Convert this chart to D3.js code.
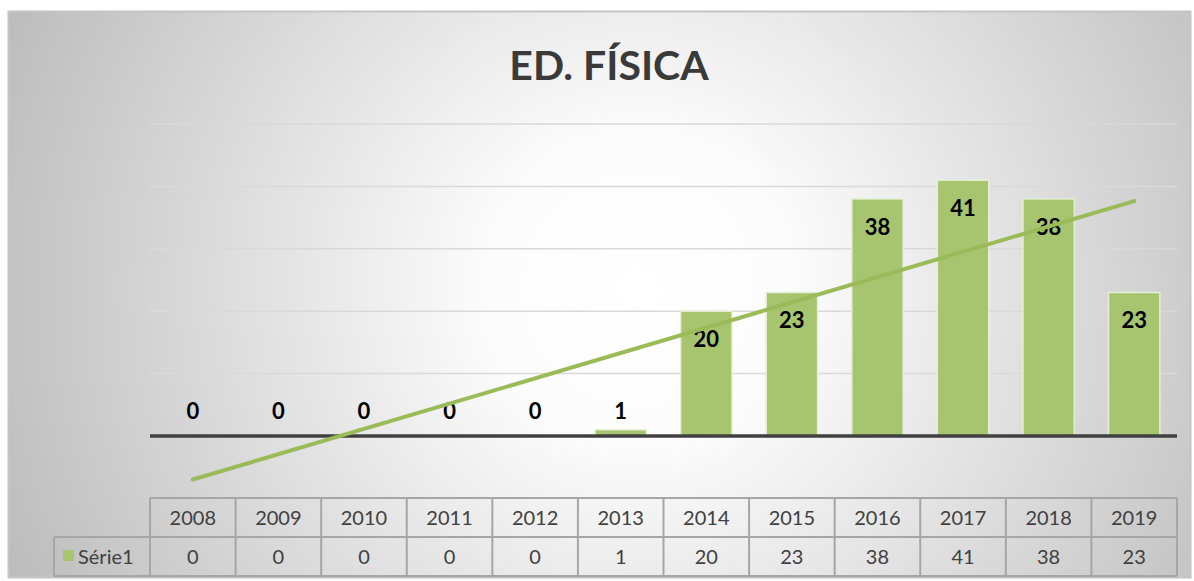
<!DOCTYPE html>
<html><head><meta charset="utf-8">
<script src="https://cdn.jsdelivr.net/npm/d3@7"></script>
<style>html,body{margin:0;padding:0;background:#fff;}svg{display:block;}</style>
</head><body>
<svg id="c" width="1194" height="581"></svg>
<script>
const title = "ED. FÍSICA";
const seriesName = "Série1";
const categories = ["2008","2009","2010","2011","2012","2013","2014","2015","2016","2017","2018","2019"];
const values = [0,0,0,0,0,1,20,23,38,41,38,23];
const yTicks = [0,10,20,30,40,50];

const svg = d3.select("#c");
const font = "Lato, 'Open Sans', sans-serif";
const green = "#a7c46e";

const defs = svg.append("defs");
const rg = defs.append("radialGradient").attr("id","bg").attr("gradientUnits","userSpaceOnUse")
  .attr("cx",640).attr("cy",290).attr("r",690);
rg.append("stop").attr("offset","0%").attr("stop-color","#ffffff");
rg.append("stop").attr("offset","22%").attr("stop-color","#fcfcfc");
rg.append("stop").attr("offset","100%").attr("stop-color","#bcbcbc");

svg.append("rect").attr("x",8.5).attr("y",11.5).attr("width",1182).attr("height",566)
  .attr("fill","url(#bg)").attr("stroke","#c4c4c4").attr("stroke-width",2);

const x = d3.scaleBand().domain(categories).range([150,1177]).paddingInner(0.4).paddingOuter(0.2);
const xb = d3.scaleBand().domain(categories).range([150,1177]);
const y = d3.scaleLinear().domain([0,50]).range([436,124]);

// gridlines
svg.append("g").selectAll("line").data(yTicks.filter(d=>d>0)).join("line")
  .attr("x1",150).attr("x2",1177).attr("y1",d=>y(d)).attr("y2",d=>y(d))
  .attr("stroke","#d9d9d9").attr("stroke-width",1.5);

// title
svg.append("text").attr("x",609).attr("y",80).attr("text-anchor","middle")
  .attr("font-family",font).attr("font-weight","bold").attr("font-size",41).attr("fill","#3a3a3a").text(title);

// bars
svg.append("g").selectAll("rect").data(values).join("rect")
  .attr("x",(d,i)=>x(categories[i])).attr("width",x.bandwidth())
  .attr("y",d=>y(d)).attr("height",d=>y(0)-y(d))
  .attr("fill",green).attr("stroke","#e6efd6").attr("stroke-width",1.5);

// axis line
svg.append("line").attr("x1",150).attr("x2",1177).attr("y1",y(0)).attr("y2",y(0))
  .attr("stroke","#404040").attr("stroke-width",3.5);

const cx = c => xb(c)+xb.bandwidth()/2;

// labels
svg.append("g").selectAll("text").data(values).join("text")
  .attr("x",(d,i)=>cx(categories[i]))
  .attr("y",d=> (y(0)-y(d)) < 35 ? y(0)-17 : y(d)+36)
  .attr("text-anchor","middle").attr("font-family",font).attr("font-weight","bold")
  .attr("font-size",22).attr("fill","#000").text(d=>d);

// trendline (linear least squares on data), drawn over labels
const n = values.length;
const xs = values.map((d,i)=>i+1);
const mx = d3.mean(xs), my = d3.mean(values);
const slope = d3.sum(xs.map((xv,i)=>(xv-mx)*(values[i]-my))) / d3.sum(xs.map(xv=>(xv-mx)**2));
const inter = my - slope*mx;
svg.append("line")
  .attr("x1",cx(categories[0])).attr("y1",y(inter+slope*1))
  .attr("x2",cx(categories[n-1])).attr("y2",y(inter+slope*n))
  .attr("stroke","#9bbb59").attr("stroke-width",4).attr("stroke-linecap","round");

// data table
const t0 = 498, t1 = 537, t2 = 576;
const tg = svg.append("g").attr("stroke","#a6a6a6").attr("stroke-width",2);
tg.append("line").attr("x1",150).attr("x2",1177).attr("y1",t0).attr("y2",t0);
tg.append("line").attr("x1",54).attr("x2",1177).attr("y1",t1).attr("y2",t1);
tg.append("line").attr("x1",54).attr("x2",1177).attr("y1",t2).attr("y2",t2);
tg.append("line").attr("x1",54).attr("x2",54).attr("y1",t1).attr("y2",t2);
tg.selectAll(".v").data(categories.concat(["end"])).join("line")
  .attr("x1",(d,i)=>150+i*xb.bandwidth()).attr("x2",(d,i)=>150+i*xb.bandwidth())
  .attr("y1",t0).attr("y2",t2);

svg.append("g").selectAll("text").data(categories).join("text")
  .attr("x",d=>cx(d)).attr("y",(t0+t1)/2+7).attr("text-anchor","middle")
  .attr("font-family",font).attr("font-size",20).attr("fill","#404040").text(d=>d);
svg.append("g").selectAll("text").data(values).join("text")
  .attr("x",(d,i)=>cx(categories[i])).attr("y",(t1+t2)/2+7).attr("text-anchor","middle")
  .attr("font-family",font).attr("font-size",20).attr("fill","#404040").text(d=>d);

svg.append("rect").attr("x",63).attr("y",550).attr("width",11).attr("height",11).attr("fill",green);
svg.append("text").attr("x",78).attr("y",(t1+t2)/2+7).attr("font-family",font).attr("font-size",20)
  .attr("fill","#404040").text(seriesName);
</script>
</body></html>
